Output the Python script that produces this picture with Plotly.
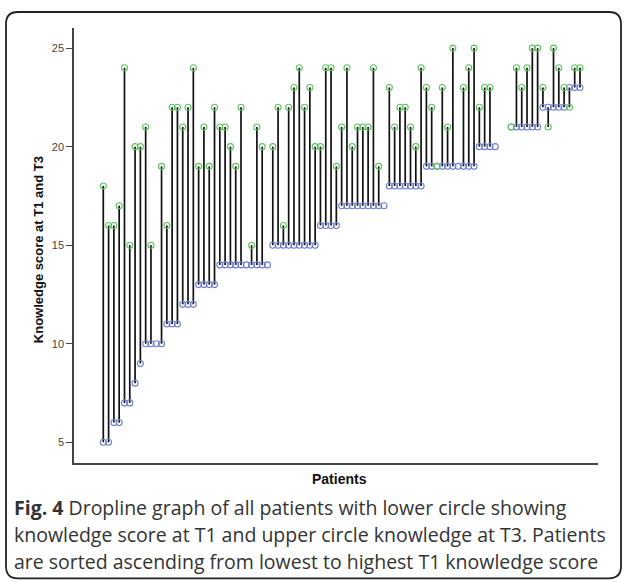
import plotly.graph_objects as go

# Knowledge score at T1 (lower circle) and T3 (upper circle); patients sorted by T1
t1 = [5, 5, 6, 6, 7, 7, 8, 9, 10, 10, 10, 10, 11, 11, 11, 12, 12, 12,
      13, 13, 13, 13,
      14, 14, 14, 14, 14, 14, 14, 14, 14, 14,
      15, 15, 15, 15, 15, 15, 15, 15, 15,
      16, 16, 16, 16,
      17, 17, 17, 17, 17, 17, 17, 17, 17,
      18, 18, 18, 18, 18, 18, 18,
      19, 19, 19, 19, 19, 19, 19, 19, 19, 19,
      20, 20, 20, 20,
      None, None,
      21, 21, 21, 21, 21, 21,
      22, 22, 22, 22, 22,
      23, 23, 23]
t3 = [18, 16, 16, 17, 24, 15, 20, 20, 21, 15, None, 19, 16, 22, 22, 21, 22, 24,
      19, 21, 19, 22,
      21, 21, 20, 19, 22, None, 15, 21, 20, None,
      20, 22, 16, 22, 23, 24, 22, 23, 20,
      20, 24, 24, 19,
      21, 24, 20, 21, 21, 21, 24, 19, None,
      23, 21, 22, 22, 21, 20, 24,
      23, 22, 19, 23, 21, 25, None, 23, 24, 25,
      22, 23, 23, None,
      None, None,
      21, 24, 23, 24, 25, 25,
      23, 21, 25, 24, 23,
      22, 24, 24]
patients = list(range(1, len(t1) + 1))
y_ticks = [5, 10, 15, 20, 25]

# plot area in pixels
L, R, T, B = 74, 598, 28, 462.7
W, H = 624, 582

lx, ly = [], []
for p, a, b in zip(patients, t1, t3):
    if a is not None and b is not None:
        lx += [p, p, None]
        ly += [a, b, None]

fig = go.Figure()
fig.add_trace(go.Scatter(x=lx, y=ly, mode="lines",
                         line=dict(color="#111111", width=1.7),
                         hoverinfo="skip", showlegend=False))
fig.add_trace(go.Scatter(x=patients, y=t1, mode="markers", name="T1",
                         marker=dict(symbol="circle-open", size=6,
                                     color="#6f80d2", line=dict(width=1.1)),
                         showlegend=False))
fig.add_trace(go.Scatter(x=patients, y=t3, mode="markers", name="T3",
                         marker=dict(symbol="circle-open", size=6,
                                     color="#5cc45c", line=dict(width=1.1)),
                         showlegend=False))

def px(x):
    return (x - L) / (R - L)

def py(y):
    return (B - y) / (B - T)

# rounded frame around the figure
x0, y0, x1, y1, r = 6, 12, 621, 578, 12
path = (f"M {px(x0)},{py(y0 + r)} Q {px(x0)},{py(y0)} {px(x0 + r)},{py(y0)} "
        f"L {px(x1 - r)},{py(y0)} Q {px(x1)},{py(y0)} {px(x1)},{py(y0 + r)} "
        f"L {px(x1)},{py(y1 - r)} Q {px(x1)},{py(y1)} {px(x1 - r)},{py(y1)} "
        f"L {px(x0 + r)},{py(y1)} Q {px(x0)},{py(y1)} {px(x0)},{py(y1 - r)} Z")
fig.add_shape(type="path", xref="paper", yref="paper", path=path,
              line=dict(color="#222222", width=1.8))

ann = []
ann.append(dict(text="<b>Knowledge score at T1 and T3</b>", x=px(38), y=py(250),
                xref="paper", yref="paper", showarrow=False, textangle=-90,
                xanchor="center", yanchor="middle",
                font=dict(family="Liberation Sans, Arial", size=13, color="#111111")))
ann.append(dict(text="<b>Patients</b>", x=px(339), y=py(479),
                xref="paper", yref="paper", showarrow=False,
                xanchor="center", yanchor="middle",
                font=dict(family="Liberation Sans, Arial", size=14, color="#111111")))
cap = ["<b>Fig. 4</b> Dropline graph of all patients with lower circle showing",
       "knowledge score at T1 and upper circle knowledge at T3. Patients",
       "are sorted ascending from lowest to highest T1 knowledge score"]
for i, line in enumerate(cap):
    ann.append(dict(text=line, x=px(12), y=py(507 + 27 * i), xref="paper", yref="paper",
                    xanchor="left", yanchor="middle", showarrow=False, align="left",
                    font=dict(family="Open Sans", size=19.5, color="#333333")))

fig.update_layout(
    width=W, height=H,
    margin=dict(l=L, r=W - R, t=T, b=H - B, pad=0),
    paper_bgcolor="white", plot_bgcolor="white",
    annotations=ann,
    xaxis=dict(range=[-4.53, 94.4], showgrid=False, zeroline=False,
               showticklabels=False, ticks="", showline=True,
               linecolor="#444444", linewidth=1.5),
    yaxis=dict(range=[3.95, 26.02], tickvals=y_ticks, showgrid=False, zeroline=False,
               ticks="outside", ticklen=6, tickwidth=1.3, tickcolor="#444444",
               showline=True, linecolor="#444444", linewidth=1.5,
               tickfont=dict(family="Liberation Sans, Arial", size=11, color="#444444")),
)

fig.write_html("out.html", config={"displayModeBar": False},
               post_script="document.body.style.margin='0';document.body.style.overflow='hidden';")
